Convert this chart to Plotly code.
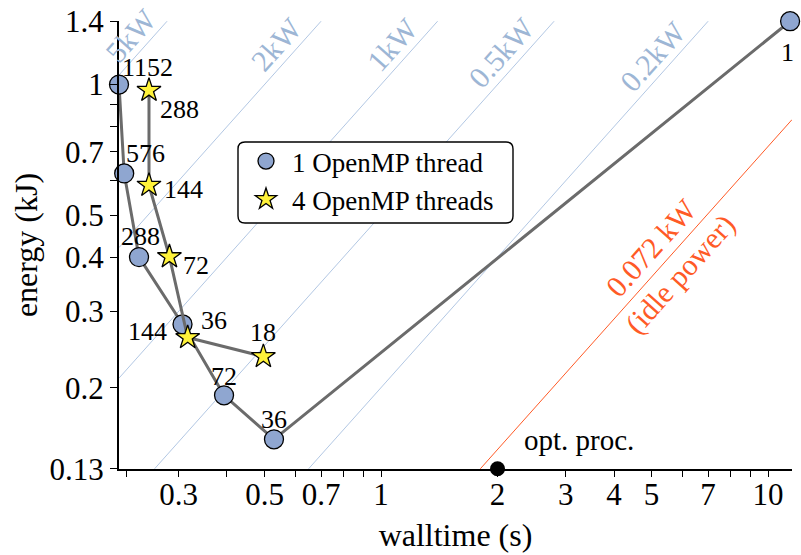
import math
import plotly.graph_objects as go

# ---------------- data ----------------
walltime_1thr = [0.2104, 0.217, 0.237, 0.307, 0.393, 0.529, 11.4]
energy_1thr = [1.00, 0.624, 0.400, 0.280, 0.192, 0.152, 1.40]
procs_1thr = ["1152", "576", "288", "144", "72", "36", "1"]

walltime_4thr = [0.2515, 0.2515, 0.284, 0.3166, 0.4966]
energy_4thr = [0.970, 0.586, 0.401, 0.261, 0.236]
procs_4thr = ["288", "144", "72", "36", "18"]

power_kw = [5, 2, 1, 0.5, 0.2]
power_text = ["5kW", "2kW", "1kW", "0.5kW", "0.2kW"]
idle_kw = 0.072
idle_text = "0.072 kW<br>(idle power)"
opt_walltime = 2.0
opt_text = "opt. proc."

x_ticks = [0.22, 0.3, 0.4, 0.5, 0.6, 0.7, 0.8, 0.9, 1, 2, 3, 4, 5, 6, 7, 8, 9, 10]
x_tick_text = ["", "0.3", "", "0.5", "", "0.7", "", "", "1", "2", "3", "4", "5", "", "7", "", "", "10"]
y_ticks = [0.13, 0.2, 0.3, 0.4, 0.5, 0.6, 0.7, 0.8, 0.9, 1, 1.4]
y_tick_text = ["0.13", "0.2", "0.3", "0.4", "0.5", "", "0.7", "", "", "1", "1.4"]

# ---------------- style / layout ----------------
FONT = "Liberation Serif"
W, H = 801, 555
ML, MR, MT, MB = 119, 9, 21, 86
PW, PH = W - ML - MR, H - MT - MB
XMIN, XMAX = 0.2104, 11.53
YMIN, YMAX = 0.13, 1.4
xr = [math.log10(XMIN), math.log10(XMAX)]
yr = [math.log10(YMIN) - 0.0005, math.log10(YMAX) + 0.0005]
px_dec_x = PW / (xr[1] - xr[0])
px_dec_y = PH / (yr[1] - yr[0])
ang = math.degrees(math.atan2(px_dec_y, px_dec_x))

C_CIRCLE = "#8fa6d0"
C_STAR = "#fff23a"
C_CONN = "#6b6b6b"
C_PLINE = "#a9c1e0"
C_PTEXT = "#9db6d5"
C_IDLE = "#ff5a26"

label_along = [1.22, 1.16, 1.16, 1.11, 1.09]  # energy where each power label sits
off_1thr = [(28, 17), (21, 20), (1, 21), (-35, -7), (0, 19), (0, 20), (-3, -31)]
off_4thr = [(31, -19), (35, -4), (27, -9), (26, 17), (0, 24)]

circle_marker = dict(symbol="circle", size=19, color=C_CIRCLE, line=dict(color="black", width=1.3))
star_marker = dict(symbol="star", size=18, color=C_STAR, line=dict(color="black", width=1.3))

fig = go.Figure()


def clipped(P):
    t0 = max(XMIN, YMIN / P)
    t1 = min(XMAX, YMAX / P)
    return [t0, t1], [P * t0, P * t1]


for P in power_kw:
    tx, ey = clipped(P)
    fig.add_trace(go.Scatter(x=tx, y=ey, mode="lines", line=dict(color=C_PLINE, width=0.9),
                             showlegend=False, hoverinfo="skip"))
tx, ey = clipped(idle_kw)
fig.add_trace(go.Scatter(x=tx, y=ey, mode="lines", line=dict(color=C_IDLE, width=1.0),
                         showlegend=False, hoverinfo="skip"))

fig.add_trace(go.Scatter(x=walltime_1thr, y=energy_1thr, mode="lines+markers",
                         showlegend=False, cliponaxis=False,
                         line=dict(color=C_CONN, width=3), marker=circle_marker))
fig.add_trace(go.Scatter(x=walltime_4thr, y=energy_4thr, mode="lines+markers",
                         showlegend=False, cliponaxis=False,
                         line=dict(color=C_CONN, width=3), marker=star_marker))
# legend-only entries (markers only)
fig.add_trace(go.Scatter(x=[None], y=[None], mode="markers", name="1 OpenMP thread",
                         marker=circle_marker))
fig.add_trace(go.Scatter(x=[None], y=[None], mode="markers", name="4 OpenMP threads",
                         marker=star_marker))
# optimum process marker
fig.add_trace(go.Scatter(x=[opt_walltime], y=[YMIN], mode="markers", cliponaxis=False,
                         marker=dict(color="black", size=15), showlegend=False, hoverinfo="skip"))

ann = []
for P, txt, ea in zip(power_kw, power_text, label_along):
    ann.append(dict(x=math.log10(ea / P), y=math.log10(ea), text=txt, showarrow=False,
                    textangle=-ang, xshift=-13.4, yshift=12,
                    font=dict(family=FONT, size=30, color=C_PTEXT)))
e_idle = 0.391
ann.append(dict(x=math.log10(e_idle / idle_kw), y=math.log10(e_idle), text=idle_text,
                showarrow=False, textangle=-ang,
                font=dict(family=FONT, size=30, color=C_IDLE)))
for t, e, s, (dx, dy) in zip(walltime_1thr, energy_1thr, procs_1thr, off_1thr):
    ann.append(dict(x=math.log10(t), y=math.log10(e), text=s, showarrow=False,
                    xshift=dx, yshift=dy, font=dict(family=FONT, size=26, color="black")))
for t, e, s, (dx, dy) in zip(walltime_4thr, energy_4thr, procs_4thr, off_4thr):
    ann.append(dict(x=math.log10(t), y=math.log10(e), text=s, showarrow=False,
                    xshift=dx, yshift=dy, font=dict(family=FONT, size=26, color="black")))
ann.append(dict(x=math.log10(opt_walltime), y=math.log10(YMIN), text=opt_text, showarrow=False,
                xanchor="left", xshift=24, yshift=29,
                font=dict(family=FONT, size=29, color="black")))


def paper_x(px):
    return (px - ML) / PW


def paper_y(py):
    return 1 - (py - MT) / PH


# rounded legend box
bx0, bx1, by0, by1, r = 238, 513, 142, 223, 7
rx, ry = r / PW, r / PH
X0, X1, Y0, Y1 = paper_x(bx0), paper_x(bx1), paper_y(by1), paper_y(by0)
path = (f"M {X0 + rx},{Y1} L {X1 - rx},{Y1} Q {X1},{Y1} {X1},{Y1 - ry} "
        f"L {X1},{Y0 + ry} Q {X1},{Y0} {X1 - rx},{Y0} L {X0 + rx},{Y0} "
        f"Q {X0},{Y0} {X0},{Y0 + ry} L {X0},{Y1 - ry} Q {X0},{Y1} {X0 + rx},{Y1} Z")
shapes = [dict(type="path", path=path, xref="paper", yref="paper",
               line=dict(color="black", width=1.4), fillcolor="white", layer="above")]

fig.update_layout(
    width=W, height=H,
    margin=dict(l=ML, r=MR, t=MT, b=MB, autoexpand=False),
    plot_bgcolor="white", paper_bgcolor="white",
    font=dict(family=FONT, color="black"),
    showlegend=True,
    legend=dict(x=paper_x(240), y=paper_y(137), xanchor="left", yanchor="top",
                bgcolor="rgba(0,0,0,0)", borderwidth=0, itemwidth=42,
                font=dict(family=FONT, size=27, color="black"),
                tracegroupgap=0),
    xaxis=dict(type="log", range=xr, tickmode="array", tickvals=x_ticks, ticktext=x_tick_text,
               automargin=False, ticklabelstandoff=-9,
               showgrid=False, zeroline=False, showline=True, linecolor="black", linewidth=2,
               ticks="outside", ticklen=6, tickwidth=1.3, tickcolor="black",
               tickfont=dict(family=FONT, size=31, color="black"),
               title=dict(text="walltime (s)", font=dict(family=FONT, size=32), standoff=12)),
    yaxis=dict(type="log", range=yr, tickmode="array", tickvals=y_ticks, ticktext=y_tick_text,
               automargin=False,
               showgrid=False, zeroline=False, showline=True, linecolor="black", linewidth=2,
               ticks="outside", ticklen=7, tickwidth=1.3, tickcolor="black",
               tickfont=dict(family=FONT, size=31, color="black"),
               title=dict(text="energy (kJ)", font=dict(family=FONT, size=32), standoff=2)),
    annotations=ann,
    shapes=shapes,
)

fig.write_html("out.html")
